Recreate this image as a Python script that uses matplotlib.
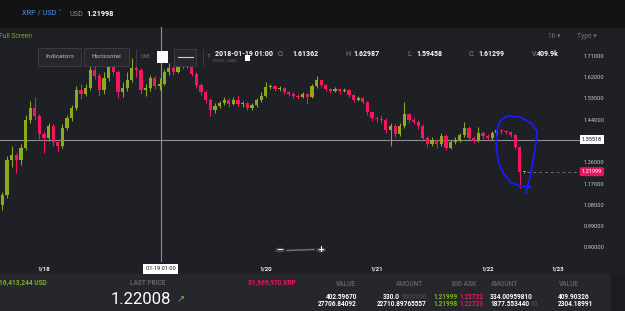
import matplotlib
matplotlib.use("Agg")
import matplotlib.pyplot as plt
from matplotlib.patches import Rectangle, Circle
from matplotlib.lines import Line2D
import matplotlib.transforms as mtransforms

plt.rcParams['font.family'] = ['Roboto', 'DejaVu Sans']

# hourly candles, hour 0 = 2018-01-18 00:00
hours = list(range(-9, 105))
closes = [1.121, 1.269, 1.290, 1.269, 1.320, 1.438, 1.489, 1.455, 1.379,
          1.362, 1.413, 1.345, 1.329, 1.405, 1.447, 1.489, 1.565, 1.548, 1.574,
          1.650, 1.624, 1.565, 1.616, 1.667, 1.641, 1.557, 1.574, 1.607, 1.658,
          1.650, 1.565, 1.574, 1.616, 1.582, 1.590, 1.641, 1.658, 1.641, 1.675,
          1.667, 1.692, 1.633, 1.586, 1.557, 1.523, 1.481, 1.498, 1.510, 1.523,
          1.506, 1.523, 1.506, 1.510, 1.489, 1.502, 1.523, 1.540, 1.578, 1.582,
          1.569, 1.574, 1.557, 1.548, 1.540, 1.536, 1.548, 1.536, 1.582, 1.607,
          1.586, 1.569, 1.561, 1.569, 1.561, 1.565, 1.544, 1.523, 1.531, 1.514,
          1.472, 1.447, 1.443, 1.438, 1.396, 1.413, 1.379, 1.413, 1.464, 1.438,
          1.430, 1.413, 1.362, 1.337, 1.354, 1.337, 1.371, 1.320, 1.345, 1.354,
          1.375, 1.405, 1.362, 1.350, 1.383, 1.371, 1.362, 1.383, 1.396, 1.392,
          1.388, 1.375, 1.324, 1.219, 1.21999]
highs = [1.135, 1.285, 1.330, 1.300, 1.335, 1.460, 1.520, 1.535, 1.465,
         1.390, 1.425, 1.420, 1.350, 1.420, 1.460, 1.500, 1.580, 1.590, 1.590,
         1.670, 1.665, 1.635, 1.640, 1.700, 1.690, 1.650, 1.600, 1.640, 1.700,
         1.675, 1.660, 1.590, 1.630, 1.625, 1.615, 1.655, 1.680, 1.665, 1.690,
         1.685, 1.705, 1.700, 1.640, 1.595, 1.565, 1.530, 1.510, 1.520, 1.535,
         1.530, 1.535, 1.545, 1.520, 1.515, 1.510, 1.530, 1.555, 1.600, 1.590,
         1.588, 1.580, 1.578, 1.562, 1.555, 1.548, 1.555, 1.552, 1.590, 1.625,
         1.612, 1.590, 1.575, 1.578, 1.575, 1.572, 1.570, 1.548, 1.540, 1.535,
         1.520, 1.478, 1.455, 1.460, 1.445, 1.425, 1.420, 1.425, 1.515, 1.470,
         1.450, 1.440, 1.420, 1.370, 1.365, 1.360, 1.385, 1.378, 1.355, 1.365,
         1.385, 1.430, 1.412, 1.370, 1.410, 1.390, 1.380, 1.392, 1.405, 1.402,
         1.398, 1.392, 1.380, 1.330, 1.224]
lows = [1.060, 1.110, 1.240, 1.215, 1.250, 1.310, 1.425, 1.440, 1.360,
        1.300, 1.350, 1.330, 1.305, 1.320, 1.395, 1.435, 1.480, 1.525, 1.540,
        1.565, 1.610, 1.540, 1.550, 1.605, 1.630, 1.530, 1.535, 1.560, 1.600,
        1.620, 1.550, 1.540, 1.560, 1.570, 1.565, 1.585, 1.630, 1.630, 1.635,
        1.655, 1.660, 1.625, 1.575, 1.545, 1.510, 1.455, 1.470, 1.490, 1.500,
        1.495, 1.500, 1.495, 1.495, 1.480, 1.480, 1.495, 1.515, 1.535, 1.570,
        1.560, 1.560, 1.548, 1.540, 1.530, 1.528, 1.530, 1.505, 1.530, 1.575,
        1.578, 1.560, 1.552, 1.555, 1.550, 1.555, 1.535, 1.515, 1.518, 1.505,
        1.460, 1.435, 1.430, 1.425, 1.385, 1.330, 1.365, 1.370, 1.405, 1.425,
        1.420, 1.400, 1.350, 1.325, 1.330, 1.320, 1.330, 1.310, 1.315, 1.338,
        1.345, 1.368, 1.355, 1.340, 1.345, 1.360, 1.352, 1.355, 1.375, 1.380,
        1.378, 1.365, 1.315, 1.151, 1.216]
opens = [1.080] + closes[:-1]

# 1.35000 sits under the crosshair price box, so it is left out
price_ticks = [0.90, 0.99, 1.08, 1.17, 1.26, 1.44, 1.53, 1.62, 1.71]
date_ticks = [0, 48, 72, 96, 111.3]
date_labels = ["1/18", "1/20", "1/21", "1/22", "1/23"]
cross_hour, cross_price = 25.3, 1.35518
last_price = 1.21999

W, H = 625, 311
def fx(x): return x / W
def fy(y): return 1 - y / H

BG = '#1f2025'
GREEN = '#88ab20'
PINK = '#f5165f'

fig = plt.figure(figsize=(6.25, 3.11), dpi=100, facecolor=BG)

# panels
fig.add_artist(Rectangle((0, fy(27)), 1, 27 / H, transform=fig.transFigure,
                         color='#131313', zorder=0))
fig.add_artist(Rectangle((0, 0), 1, fy(274), transform=fig.transFigure,
                         color='#25272c', zorder=0))
fig.add_artist(Rectangle((fx(611), 0), 1, fy(274), transform=fig.transFigure,
                         color='#1c1d21', zorder=0))

ax = fig.add_axes([0, fy(262), fx(580), (262 - 27) / H])
ax.patch.set_alpha(0)
for s in ax.spines.values():
    s.set_visible(False)
ax.set_xlim(-44 / 4.62, 536 / 4.62)
ax.set_ylim(0.83838, 1.83126)

# candles
for h, o, c, hi, lo in zip(hours, opens, closes, highs, lows):
    col = GREEN if c >= o else PINK
    ax.vlines(h, lo, hi, color=col, lw=0.75, zorder=3)
    ax.bar(h, max(abs(c - o), 0.003), bottom=min(o, c), width=0.7,
           color=col, zorder=4, linewidth=0)

# crosshair and last-price line
ax.axhline(cross_price, color='#8e8e8e', lw=0.8, zorder=2)
ax.axvline(cross_hour, color='#8e8e8e', lw=0.8, zorder=2)
ax.plot([hours[-1] + 0.5, 116], [last_price, last_price], color='#6c6c6c',
        lw=0.7, ls=(0, (3, 3)), zorder=2)

ax.yaxis.tick_right()
ax.set_yticks(price_ticks)
ax.set_yticklabels([f"{v:.5f}" for v in price_ticks])
ax.tick_params(axis='y', length=0, pad=2.3, labelsize=4.1, labelcolor='#c9c9c9')
ax.set_xticks(date_ticks)
ax.set_xticklabels(date_labels)
ax.tick_params(axis='x', length=0, pad=3, labelsize=4.4, labelcolor='#f0f0f0')
for t in ax.get_xticklabels():
    t.set_fontweight('bold')

blend = mtransforms.blended_transform_factory(ax.transAxes, ax.transData)
ax.text(1.003, cross_price, "1.35518", transform=blend, fontsize=4.1,
        color='#111111', va='center', ha='left', clip_on=False, zorder=10,
        bbox=dict(boxstyle='square,pad=0.35', fc='white', ec='none'))
ax.text(1.003, last_price, "1.21999", transform=blend, fontsize=4.1,
        color='white', va='center', ha='left', clip_on=False, zorder=10,
        bbox=dict(boxstyle='round,pad=0.35,rounding_size=0.3', fc='#e8175d', ec='none'))
blend_x = mtransforms.blended_transform_factory(ax.transData, fig.transFigure)
ax.text(cross_hour, fy(269), "01-19 01:00", transform=blend_x, fontsize=4.1,
        color='#111111', va='center', ha='center', clip_on=False, zorder=10,
        bbox=dict(boxstyle='square,pad=0.45', fc='white', ec='none'))

# hand-drawn blue loop
loop = [(531, 187), (520, 186), (510, 182), (503, 173), (498, 160), (496, 143),
        (497, 130), (500, 121), (507, 116), (520, 117), (531, 123), (537, 131),
        (536, 143), (533, 160), (531, 173), (528, 185), (526, 193)]
fig.add_artist(Line2D([fx(p[0]) for p in loop], [fy(p[1]) for p in loop],
                      transform=fig.transFigure, color='#1a1aff', lw=1.3,
                      solid_joinstyle='round', zorder=20))

# top bar
fig.text(fx(22), fy(14), "XRP / USD ˅", color='#4a8fe0', fontsize=5.3, va='center')
fig.text(fx(69), fy(14), "USD", color='#8a8a8a', fontsize=5.3, va='center')
fig.text(fx(86), fy(14), "1.21998", color='white', fontsize=5.3,
         fontweight='bold', va='center')

fig.text(fx(-1), fy(37), "Full Screen", color='#78ad18', fontsize=4.9, va='center')
fig.text(fx(548), fy(37), "1h ▾", color='#707070', fontsize=4.9, va='center')
fig.text(fx(577), fy(37), "Type ▾", color='#707070', fontsize=4.9, va='center')

# toolbar
for x0, x1, label in [(38, 81, "Indicators"), (84, 129, "Horizontal")]:
    fig.add_artist(Rectangle((fx(x0), fy(66)), fx(x1 - x0), 18 / H,
                             transform=fig.transFigure, fc='#25272c',
                             ec='#3b3d43', lw=0.7, zorder=5))
    fig.text(fx((x0 + x1) / 2), fy(57), label, color='#8d8d8d', fontsize=4.6,
             fontweight='bold', ha='center', va='center', zorder=6)
for xs in (136, 203):
    fig.add_artist(Line2D([fx(xs), fx(xs)], [fy(49), fy(66)],
                          transform=fig.transFigure, color='#3b3d43', lw=0.7))
fig.text(fx(141), fy(57), "LINE:", color='#777777', fontsize=3.4, va='center', zorder=6)
fig.add_artist(Rectangle((fx(157), fy(63)), fx(11), 12 / H,
                         transform=fig.transFigure, fc='white', ec='none', zorder=6))
fig.add_artist(Rectangle((fx(174), fy(66)), fx(22), 17 / H, transform=fig.transFigure,
                         fc='#25272c', ec='#3b3d43', lw=0.7, zorder=5))
fig.add_artist(Line2D([fx(178), fx(193)], [fy(57), fy(57)],
                      transform=fig.transFigure, color='#cfcfcf', lw=0.8, zorder=6))
fig.text(fx(207), fy(57), "T", color='#777777', fontsize=4.6, va='center', zorder=6)
fig.text(fx(212), fy(61), "TAXES LABEL", color='#666666', fontsize=3.0, va='center', zorder=6)
fig.add_artist(Rectangle((fx(245), fy(61)), fx(5), 6 / H,
                         transform=fig.transFigure, fc='white', ec='none', zorder=6))
fig.text(fx(215), fy(54), "2018-01-19 01:00", color='white', fontsize=5,
         fontweight='bold', va='center', zorder=7)
for x_lab, x_val, lab, val in [(278, 292, "O:", "1.61362"), (345, 353, "H:", "1.62987"),
                               (407, 416, "L:", "1.59458"), (469, 478, "C:", "1.61299"),
                               (532, 537, "V:", "409.9k")]:
    fig.text(fx(x_lab), fy(54), lab, color='#8a8a8a', fontsize=5, va='center', zorder=7)
    fig.text(fx(x_val), fy(54), val, color='white', fontsize=5, fontweight='bold',
             va='center', zorder=7)

# zoom widget
for cx, sym in ((280, "−"), (321, "+")):
    fig.add_artist(Circle((fx(cx), fy(250)), 5 / W, transform=fig.transFigure,
                          fc='#46474c', ec='none', zorder=6))
    fig.text(fx(cx), fy(250), sym, color='white', fontsize=6, fontweight='bold',
             ha='center', va='center', family='DejaVu Sans', zorder=7)
fig.add_artist(Line2D([fx(287), fx(314)], [fy(250.5), fy(249.5)],
                      transform=fig.transFigure, color='#6a6a6a', lw=1.2, zorder=6))

# bottom panel
fig.text(fx(-1), fy(283), "16,413,244 USD", color='#7cb518', fontsize=4.8,
         fontweight='bold', va='center')
fig.text(fx(148), fy(283), "LAST PRICE", color='#666666', fontsize=4.7,
         fontweight='bold', va='center', ha='center')
fig.text(fx(111), fy(300), "1.22008", color='white', fontsize=12, va='center')
fig.text(fx(177), fy(299), "↗", color='#7cb518', fontsize=7, va='center',
         family='DejaVu Sans')
fig.text(fx(248), fy(283), "31,969,970 XRP", color='#e8175d', fontsize=4.8,
         fontweight='bold', va='center')

for xc, head in [(346, "VALUE"), (410, "AMOUNT"), (464, "BID ASK"), (505, "AMOUNT"),
                 (569, "VALUE")]:
    fig.text(fx(xc), fy(284), head, color='#5e5f63', fontsize=4.7, fontweight='bold',
             ha='center', va='center')

rows_y = [297, 304]
values_left = ["402.59670", "27706.84092"]
amount_left = [("330.0", "0000000"), ("22710.89765557", "")]
bids = ["1.21999", "1.21998"]
asks = ["1.22722", "1.22723"]
amount_right = [("334.00959810", ""), ("1877.553440", "00")]
values_right = ["409.90326", "2304.18991"]
for i, y in enumerate(rows_y):
    fig.text(fx(357), fy(y), values_left[i], color='white', fontsize=4.7,
             fontweight='bold', ha='right', va='center')
    a, pad = amount_left[i]
    if pad:
        fig.text(fx(383), fy(y), a, color='white', fontsize=4.7, fontweight='bold',
                 ha='left', va='center')
        fig.text(fx(427), fy(y), pad, color='#46474c', fontsize=4.7,
                 fontweight='bold', ha='right', va='center')
    else:
        fig.text(fx(427), fy(y), a, color='white', fontsize=4.7, fontweight='bold',
                 ha='right', va='center')
    fig.text(fx(433), fy(y), bids[i], color='#7cb518', fontsize=4.7,
             fontweight='bold', va='center')
    fig.text(fx(459), fy(y), asks[i], color='#e8175d', fontsize=4.7,
             fontweight='bold', va='center')
    a, pad = amount_right[i]
    t = fig.text(fx(490), fy(y), a, color='white', fontsize=4.7, fontweight='bold',
                 va='center')
    if pad:
        fig.text(fx(531), fy(y), pad, color='#46474c', fontsize=4.7,
                 fontweight='bold', va='center')
    fig.text(fx(558), fy(y), values_right[i], color='white', fontsize=4.7,
             fontweight='bold', va='center')

fig.savefig("out.png", dpi=100, facecolor=BG)
